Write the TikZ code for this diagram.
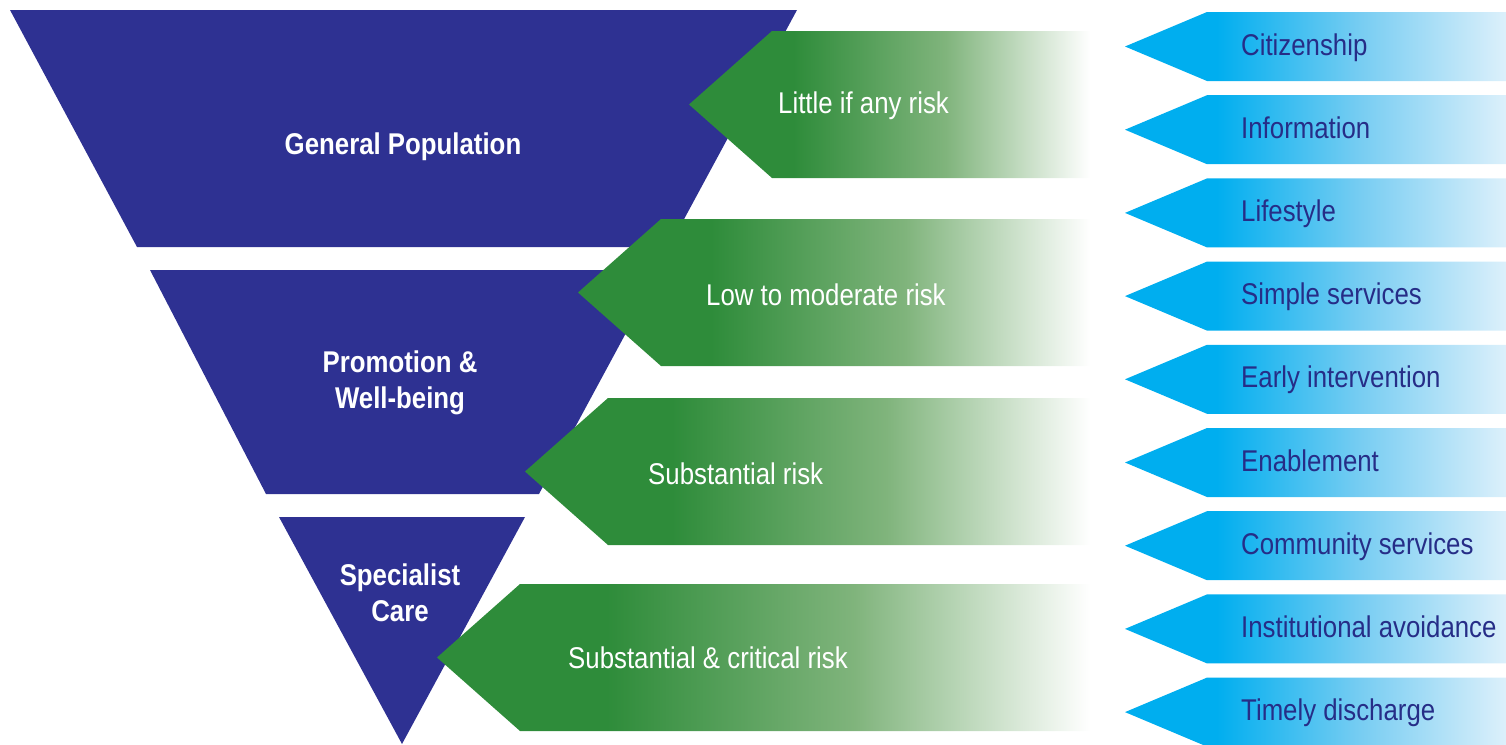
\documentclass[tikz,border=0pt]{standalone}
\usepackage{fontspec}
\newfontfamily\condfont{Liberation Sans}[FakeStretch=0.86]

\definecolor{navy}{RGB}{46,49,146}
\definecolor{riskgreen}{RGB}{46,140,58}
\definecolor{riskgreenmid}{RGB}{128,180,124}
\definecolor{stepcyan}{RGB}{0,174,239}
\definecolor{stepcyanmid}{RGB}{120,205,242}
\definecolor{steppale}{RGB}{220,240,251}
\definecolor{labelblue}{RGB}{38,45,135}

% Fades run across the middle 50bp of a 100bp shading (tip at 25bp, tail at 75bp)
\pgfdeclarehorizontalshading{greenfade}{100bp}{color(0bp)=(riskgreen); color(25bp)=(riskgreen); color(38bp)=(riskgreen); color(57bp)=(riskgreenmid); color(75bp)=(white); color(100bp)=(white)}
\pgfdeclarehorizontalshading{cyanfade}{100bp}{color(0bp)=(stepcyan); color(25bp)=(stepcyan); color(37bp)=(stepcyan); color(56bp)=(stepcyanmid); color(75bp)=(steppale); color(100bp)=(steppale)}

\begin{document}
\begin{tikzpicture}[x=1pt,y=-1pt,
  tier/.style={fill=navy},
  riskarrow/.style={shading=greenfade},
  steparrow/.style={shading=cyanfade},
  tierlabel/.style={text=white,font=\condfont\bfseries\fontsize{30}{36}\selectfont,align=center,inner sep=0pt},
  risklabel/.style={text=white,font=\condfont\fontsize{30}{36}\selectfont,anchor=base west,inner sep=0pt},
  steplabel/.style={text=labelblue,font=\condfont\fontsize{30}{36}\selectfont,anchor=base west,inner sep=0pt}]
\useasboundingbox (0,0) rectangle (1506,744);

% inverted pyramid tiers
\fill[tier] (10,10) -- (797,10) -- (669,247) -- (137,247) -- cycle;
\fill[tier] (150,270) -- (660,270) -- (539,494) -- (266,494) -- cycle;
\fill[tier] (279,517) -- (525,517) -- (402,744) -- cycle;

\node[tierlabel] (general) at (403,146.5) {General Population};
\node[tierlabel] (promotion) at (400,382.5) {Promotion \&\\Well-being};
\node[tierlabel] (specialist) at (400,592.5) {Specialist\\Care};

% risk arrows pointing into the tiers
\path[riskarrow] (689,104.5) -- (772,31) -- (1090,31) -- (1090,178) -- (772,178) -- cycle;
\path[riskarrow] (578,292.5) -- (661,219) -- (1090,219) -- (1090,366) -- (661,366) -- cycle;
\path[riskarrow] (525,471.5) -- (608,398) -- (1090,398) -- (1090,545) -- (608,545) -- cycle;
\path[riskarrow] (437,657.5) -- (520,584) -- (1090,584) -- (1090,731) -- (520,731) -- cycle;

\node[risklabel] (risk1) at (778,113) {Little if any risk};
\node[risklabel] (risk2) at (706,305) {Low to moderate risk};
\node[risklabel] (risk3) at (648,484) {Substantial risk};
\node[risklabel] (risk4) at (568,668) {Substantial \& critical risk};

% service arrows down the right-hand side
\foreach \i/\lab in {0/Citizenship,1/Information,2/Lifestyle,3/Simple services,
  4/Early intervention,5/Enablement,6/Community services,
  7/Institutional avoidance,8/Timely discharge}{
  \pgfmathsetmacro\c{46.5+83.2*\i}
  \path[steparrow] (1125,\c) -- (1207,\c-34.5) -- (1506,\c-34.5) -- (1506,\c+34.5) -- (1207,\c+34.5) -- cycle;
  \node[steplabel] (step\i) at (1241,\c+8.5) {\lab};
}
\end{tikzpicture}
\end{document}
